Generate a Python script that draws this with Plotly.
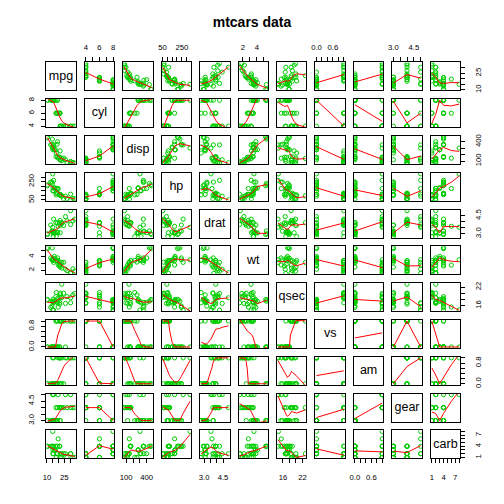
import numpy as np
import plotly.graph_objects as go

# ---- mtcars data ----
mpg = [21.0, 21.0, 22.8, 21.4, 18.7, 18.1, 14.3, 24.4, 22.8, 19.2, 17.8, 16.4, 17.3, 15.2, 10.4, 10.4,
       14.7, 32.4, 30.4, 33.9, 21.5, 15.5, 15.2, 13.3, 19.2, 27.3, 26.0, 30.4, 15.8, 19.7, 15.0, 21.4]
cyl = [6, 6, 4, 6, 8, 6, 8, 4, 4, 6, 6, 8, 8, 8, 8, 8, 8, 4, 4, 4, 4, 8, 8, 8, 8, 4, 4, 4, 8, 6, 8, 4]
disp = [160, 160, 108, 258, 360, 225, 360, 146.7, 140.8, 167.6, 167.6, 275.8, 275.8, 275.8, 472, 460,
        440, 78.7, 75.7, 71.1, 120.1, 318, 304, 350, 400, 79, 120.3, 95.1, 351, 145, 301, 121]
hp = [110, 110, 93, 110, 175, 105, 245, 62, 95, 123, 123, 180, 180, 180, 205, 215, 230, 66, 52, 65,
      97, 150, 150, 245, 175, 66, 91, 113, 264, 175, 335, 109]
drat = [3.90, 3.90, 3.85, 3.08, 3.15, 2.76, 3.21, 3.69, 3.92, 3.92, 3.92, 3.07, 3.07, 3.07, 2.93, 3.00,
        3.23, 4.08, 4.93, 4.22, 3.70, 2.76, 3.15, 3.73, 3.08, 4.08, 4.43, 3.77, 4.22, 3.62, 3.54, 4.11]
wt = [2.620, 2.875, 2.320, 3.215, 3.440, 3.460, 3.570, 3.190, 3.150, 3.440, 3.440, 4.070, 3.730, 3.780,
      5.250, 5.424, 5.345, 2.200, 1.615, 1.835, 2.465, 3.520, 3.435, 3.840, 3.845, 1.935, 2.140, 1.513,
      3.170, 2.770, 3.570, 2.780]
qsec = [16.46, 17.02, 18.61, 19.44, 17.02, 20.22, 15.84, 20.00, 22.90, 18.30, 18.90, 17.40, 17.60, 18.00,
        17.98, 17.82, 17.42, 19.47, 18.52, 19.90, 20.01, 16.87, 17.30, 15.41, 17.05, 18.90, 16.70, 16.90,
        14.50, 15.50, 14.60, 18.60]
vs = [0, 0, 1, 1, 0, 1, 0, 1, 1, 1, 1, 0, 0, 0, 0, 0, 0, 1, 1, 1, 1, 0, 0, 0, 0, 1, 0, 1, 0, 0, 0, 1]
am = [1, 1, 1, 0, 0, 0, 0, 0, 0, 0, 0, 0, 0, 0, 0, 0, 0, 1, 1, 1, 0, 0, 0, 0, 0, 1, 1, 1, 1, 1, 1, 1]
gear = [4, 4, 4, 3, 3, 3, 3, 4, 4, 4, 4, 3, 3, 3, 3, 3, 3, 4, 4, 4, 3, 3, 3, 3, 3, 4, 5, 5, 5, 5, 5, 4]
carb = [4, 4, 1, 1, 2, 1, 4, 2, 2, 4, 4, 3, 3, 3, 4, 4, 4, 1, 2, 1, 1, 2, 2, 4, 2, 1, 2, 2, 4, 6, 8, 2]

var_names = ["mpg", "cyl", "disp", "hp", "drat", "wt", "qsec", "vs", "am", "gear", "carb"]
var_data = [mpg, cyl, disp, hp, drat, wt, qsec, vs, am, gear, carb]

# tick values and labels (horizontal axes / vertical axes)
tick_vals = {
    "mpg": [10, 15, 20, 25, 30], "cyl": [4, 5, 6, 7, 8], "disp": [100, 200, 300, 400],
    "hp": [50, 100, 150, 200, 250, 300], "drat": [3.0, 3.5, 4.0, 4.5], "wt": [2, 3, 4, 5],
    "qsec": [16, 18, 20, 22], "vs": [0, 0.2, 0.4, 0.6, 0.8, 1.0], "am": [0, 0.2, 0.4, 0.6, 0.8, 1.0],
    "gear": [3.0, 3.5, 4.0, 4.5, 5.0], "carb": [1, 2, 3, 4, 5, 6, 7, 8],
}
tick_text_x = {
    "mpg": ["10", "", "", "25", ""], "cyl": ["4", "", "6", "", "8"], "disp": ["100", "", "", "400"],
    "hp": ["50", "", "", "", "250", ""], "drat": ["3.0", "", "", "4.5"], "wt": ["2", "", "4", ""],
    "qsec": ["16", "", "", "22"], "vs": ["0.0", "", "", "0.6", "", ""], "am": ["0.0", "", "", "0.6", "", ""],
    "gear": ["3.0", "", "", "4.5", ""], "carb": ["1", "", "", "4", "", "", "7", ""],
}
tick_text_y = dict(tick_text_x)
tick_text_y["vs"] = ["0.0", "", "", "", "0.8", ""]
tick_text_y["am"] = ["0.0", "", "", "", "0.8", ""]


def lowess(x, y, f=2.0 / 3.0, nsteps=3):
    """Port of R's clowess (stats::lowess)."""
    x = np.asarray(x, float)
    y = np.asarray(y, float)
    o = np.argsort(x, kind="stable")
    x = x[o]
    y = y[o]
    n = len(x)
    delta = 0.01 * (x[-1] - x[0])
    X = [0.0] + list(x)
    Y = [0.0] + list(y)
    YS = [0.0] * (n + 1)
    RW = [1.0] * (n + 1)
    ns = max(2, min(n, int(f * n + 1e-7)))

    def lowest(xs, nleft, nright, userw):
        rng = X[n] - X[1]
        h = max(xs - X[nleft], X[nright] - xs)
        h9 = 0.999 * h
        h1 = 0.001 * h
        W = [0.0] * (n + 1)
        a = 0.0
        j = nleft
        while j <= n:
            W[j] = 0.0
            r = abs(X[j] - xs)
            if r <= h9:
                if r <= h1:
                    W[j] = 1.0
                else:
                    W[j] = (1.0 - (r / h) ** 3) ** 3
                if userw:
                    W[j] *= RW[j]
                a += W[j]
            elif X[j] > xs:
                break
            j += 1
        nrt = j - 1
        if a <= 0:
            return None
        for j in range(nleft, nrt + 1):
            W[j] /= a
        if h > 0:
            a = sum(W[j] * X[j] for j in range(nleft, nrt + 1))
            b = xs - a
            c = sum(W[j] * (X[j] - a) ** 2 for j in range(nleft, nrt + 1))
            if np.sqrt(c) > 0.001 * rng:
                b /= c
                for j in range(nleft, nrt + 1):
                    W[j] *= (b * (X[j] - a) + 1.0)
        return sum(W[j] * Y[j] for j in range(nleft, nrt + 1))

    it = 1
    while it <= nsteps + 1:
        nleft, nright, last, i = 1, ns, 0, 1
        while True:
            if nright < n:
                d1 = X[i] - X[nleft]
                d2 = X[nright + 1] - X[i]
                if d1 > d2:
                    nleft += 1
                    nright += 1
                    continue
            v = lowest(X[i], nleft, nright, it > 1)
            YS[i] = v if v is not None else Y[i]
            if last < i - 1:
                denom = X[i] - X[last]
                for j in range(last + 1, i):
                    alpha = (X[j] - X[last]) / denom
                    YS[j] = alpha * YS[i] + (1.0 - alpha) * YS[last]
            last = i
            cut = X[last] + delta
            i = last + 1
            while i <= n:
                if X[i] > cut:
                    break
                if X[i] == X[last]:
                    YS[i] = YS[last]
                    last = i
                i += 1
            i = max(last + 1, i - 1)
            if last >= n:
                break
        res = [Y[k + 1] - YS[k + 1] for k in range(n)]
        sc = sum(abs(r) for r in res) / n
        if it > nsteps:
            break
        srt = sorted(abs(r) for r in res)
        m1 = n // 2
        if n % 2 == 0:
            m2 = n - m1 - 1
            cmad = 3.0 * (srt[m1] + srt[m2])
        else:
            cmad = 6.0 * srt[m1]
        if cmad < 1e-7 * sc:
            break
        c9 = 0.999 * cmad
        c1 = 0.001 * cmad
        for k in range(n):
            r = abs(res[k])
            if r <= c1:
                RW[k + 1] = 1.0
            elif r <= c9:
                RW[k + 1] = (1.0 - (r / cmad) ** 2) ** 2
            else:
                RW[k + 1] = 0.0
        it += 1
    return list(x), YS[1:]


W = 504.0
NV = len(var_names)
left0, pitch_x, pw = 42.7, 38.83, 29.8
top0, pitch_y, ph = 61.0, 37.17, 28.3
FONT = "Liberation Sans, Arial, sans-serif"
TICKFONT = dict(family=FONT, size=7.7, color="black")


def rng(v):
    lo, hi = min(v), max(v)
    p = 0.04 * (hi - lo)
    return [lo - p, hi + p]


fig = go.Figure()
layout = {}

for r in range(NV):
    for c in range(NV):
        k = r * NV + c + 1
        sx = "" if k == 1 else str(k)
        xname, yname = "x" + sx, "y" + sx
        xv, yv = var_names[c], var_names[r]
        left = left0 + c * pitch_x
        top = top0 + r * pitch_y
        xd = [left / W, (left + pw) / W]
        yd = [1 - (top + ph) / W, 1 - top / W]
        xr, yr = rng(var_data[c]), rng(var_data[r])

        xa = dict(domain=xd, anchor=yname, range=xr, showgrid=False, zeroline=False,
                  showline=True, mirror=True, linecolor="black", linewidth=1,
                  ticks="", showticklabels=False, fixedrange=True)
        ya = dict(domain=yd, anchor=xname, range=yr, showgrid=False, zeroline=False,
                  showline=True, mirror=True, linecolor="black", linewidth=1,
                  ticks="", showticklabels=False, fixedrange=True)

        # horizontal axis ticks: top row for even (1-based) columns, bottom row for odd
        if r == 0 and c % 2 == 1:
            xa.update(side="top", ticks="outside", ticklen=4, tickwidth=1, tickcolor="black",
                      tickmode="array", tickvals=tick_vals[xv], ticktext=tick_text_x[xv],
                      showticklabels=True, tickfont=TICKFONT, ticklabelstandoff=4)
        if r == NV - 1 and c % 2 == 0:
            xa.update(side="bottom", ticks="outside", ticklen=4, tickwidth=1, tickcolor="black",
                      tickmode="array", tickvals=tick_vals[xv], ticktext=tick_text_x[xv],
                      showticklabels=True, tickfont=TICKFONT, ticklabelstandoff=7)
        # vertical axis ticks: left column for even rows (1-based), right column for odd
        if c == 0 and r % 2 == 1:
            ya.update(side="left", ticks="outside", ticklen=4, tickwidth=1, tickcolor="black",
                      tickmode="array", tickvals=tick_vals[yv], ticktext=tick_text_y[yv],
                      showticklabels=True, tickfont=TICKFONT, tickangle=-90, ticklabelstandoff=4)
        if c == NV - 1 and r % 2 == 0:
            ya.update(side="right", ticks="outside", ticklen=4, tickwidth=1, tickcolor="black",
                      tickmode="array", tickvals=tick_vals[yv], ticktext=tick_text_y[yv],
                      showticklabels=True, tickfont=TICKFONT, tickangle=-90, ticklabelstandoff=7)

        layout["xaxis" + sx] = xa
        layout["yaxis" + sx] = ya

        if r == c:
            # variable name centred in the diagonal panel
            fig.add_trace(go.Scatter(x=[(xr[0] + xr[1]) / 2], y=[(yr[0] + yr[1]) / 2], mode="text",
                                     text=[xv], textposition="middle center",
                                     textfont=dict(family=FONT, size=12.5, color="black"),
                                     xaxis=xname, yaxis=yname, hoverinfo="skip", showlegend=False,
                                     cliponaxis=False))
        else:
            fig.add_trace(go.Scatter(x=var_data[c], y=var_data[r], mode="markers", xaxis=xname, yaxis=yname,
                                     marker=dict(symbol="circle-open", size=4.2, color="#00CD00",
                                                 line=dict(width=1, color="#00CD00")),
                                     hoverinfo="skip", showlegend=False))
            lx, ly = lowess(var_data[c], var_data[r])
            fig.add_trace(go.Scatter(x=lx, y=ly, mode="lines", xaxis=xname, yaxis=yname,
                                     line=dict(color="#FF0000", width=1),
                                     hoverinfo="skip", showlegend=False))

fig.update_layout(**layout)
fig.update_layout(
    width=504, height=504, margin=dict(l=0, r=0, t=0, b=0),
    paper_bgcolor="white", plot_bgcolor="white",
    title=dict(text="<b>mtcars data</b>", x=252 / W, y=1 - 22 / W, xanchor="center", yanchor="middle",
               font=dict(family=FONT, size=14, color="black")),
    showlegend=False,
)

fig.write_html("out.html")
